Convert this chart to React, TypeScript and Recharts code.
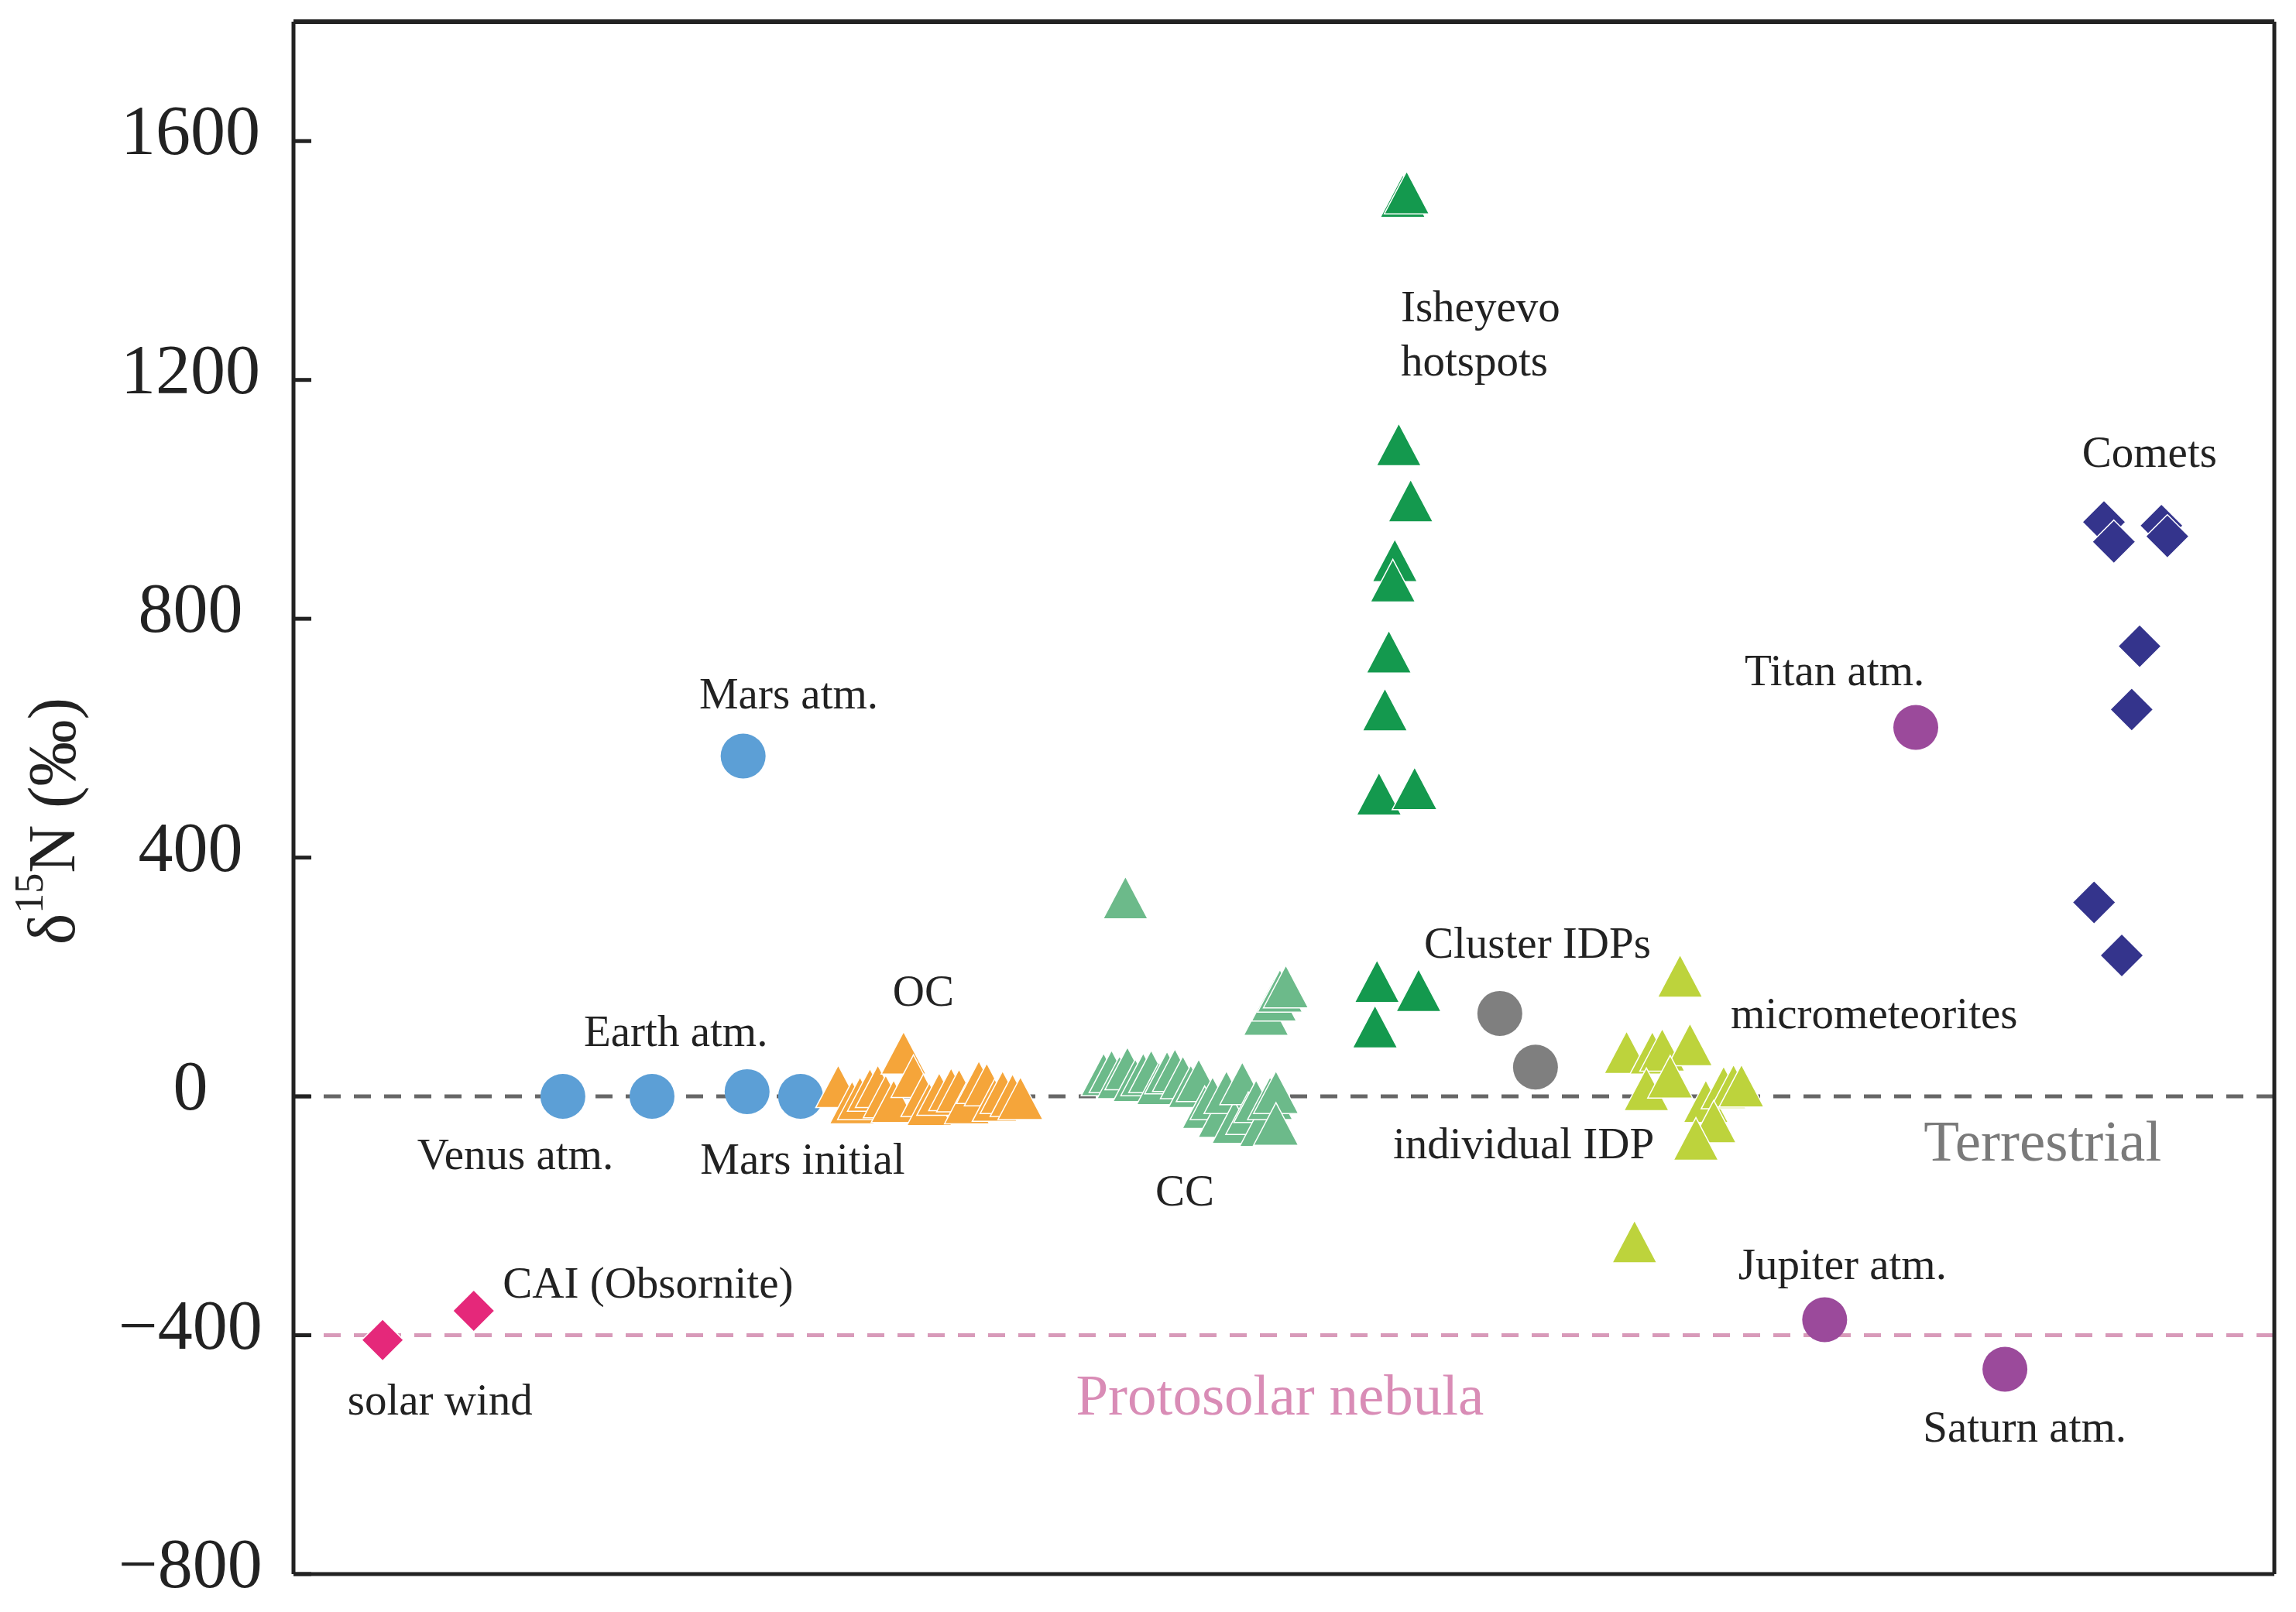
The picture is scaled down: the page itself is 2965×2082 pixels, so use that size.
import React from "react";
import { ReferenceLine, Scatter, ScatterChart, XAxis, YAxis } from "recharts";

const W = 2965;
const H = 2082;
const FONT = '"Liberation Serif", "Times New Roman", serif';

type Pt = { x: number; y: number };
type Note = { x: number; y: number; text: string; big?: boolean; color?: string; anchor?: "start" | "middle" };

// x is an arbitrary position along the plot (0-100), y is δ15N in ‰
const solarWind: Pt[] = [{ x: 4.5, y: -408 }];
const cai: Pt[] = [{ x: 9.1, y: -359 }];
const innerPlanets: Pt[] = [
  { x: 13.6, y: 0 },
  { x: 18.1, y: 0 },
  { x: 22.9, y: 8 },
  { x: 25.6, y: 0 },
];
const marsAtm: Pt[] = [{ x: 22.7, y: 570 }];
const oc: Pt[] = [
  { x: 27.5, y: 5 }, { x: 28.2, y: -22 }, { x: 28.6, y: -15 }, { x: 29.1, y: -1 },
  { x: 29.5, y: 5 }, { x: 29.9, y: -12 }, { x: 30.3, y: -20 }, { x: 30.8, y: 61 },
  { x: 31.3, y: 22 }, { x: 31.8, y: -10 }, { x: 32.1, y: -25 }, { x: 32.6, y: -8 },
  { x: 33.2, y: 0 }, { x: 33.6, y: -2 }, { x: 34.0, y: -22 }, { x: 34.6, y: 12 },
  { x: 35.0, y: 8 }, { x: 35.4, y: -18 }, { x: 35.8, y: -5 }, { x: 36.3, y: -10 },
  { x: 36.7, y: -15 },
];
const cc: Pt[] = [
  { x: 42.0, y: 321 },
  { x: 40.9, y: 25 }, { x: 41.3, y: 30 }, { x: 41.7, y: 20 }, { x: 42.1, y: 35 },
  { x: 42.5, y: 15 }, { x: 42.9, y: 25 }, { x: 43.3, y: 30 }, { x: 43.7, y: 10 },
  { x: 44.1, y: 28 }, { x: 44.5, y: 32 }, { x: 44.9, y: 20 }, { x: 45.3, y: 5 },
  { x: 45.7, y: 15 }, { x: 46.0, y: -30 }, { x: 46.4, y: -15 }, { x: 46.8, y: -45 },
  { x: 47.1, y: -5 }, { x: 47.5, y: -55 }, { x: 47.9, y: 10 }, { x: 48.2, y: -40 },
  { x: 48.6, y: -20 }, { x: 48.9, y: -60 }, { x: 49.3, y: -15 }, { x: 49.6, y: -5 },
  { x: 49.6, y: -58 },
  { x: 49.1, y: 126 }, { x: 49.5, y: 150 }, { x: 49.8, y: 165 }, { x: 50.1, y: 172 },
];
const isheyevo: Pt[] = [
  { x: 56.0, y: 1496 }, { x: 56.2, y: 1502 }, { x: 55.8, y: 1080 }, { x: 56.4, y: 986 },
  { x: 55.6, y: 886 }, { x: 55.5, y: 852 }, { x: 55.3, y: 733 }, { x: 55.1, y: 636 },
  { x: 54.8, y: 495 }, { x: 56.6, y: 504 }, { x: 54.7, y: 181 }, { x: 56.8, y: 166 },
  { x: 54.6, y: 105 },
];
const clusterIdp: Pt[] = [
  { x: 60.9, y: 139 },
  { x: 62.7, y: 49 },
];
const micrometeorites: Pt[] = [
  { x: 70.0, y: 190 }, { x: 67.3, y: 62 }, { x: 68.6, y: 61 }, { x: 69.1, y: 66 },
  { x: 70.5, y: 75 }, { x: 68.3, y: 0 }, { x: 69.5, y: 21 }, { x: 71.3, y: -20 },
  { x: 72.2, y: 3 }, { x: 72.7, y: 6 }, { x: 73.1, y: 6 }, { x: 71.7, y: -54 },
  { x: 70.8, y: -83 }, { x: 67.7, y: -255 },
];
const giantPlanets: Pt[] = [
  { x: 81.9, y: 618 }, // Titan
  { x: 77.3, y: -374 }, // Jupiter
  { x: 86.4, y: -457 }, // Saturn
];
const comets: Pt[] = [
  { x: 91.4, y: 962 }, { x: 91.9, y: 929 }, { x: 94.3, y: 956 }, { x: 94.6, y: 938 },
  { x: 93.2, y: 754 }, { x: 92.8, y: 648 }, { x: 90.9, y: 325 }, { x: 92.3, y: 236 },
];

const yTicks = [-800, -400, 0, 400, 800, 1200, 1600];

const notes: Note[] = [
  { x: 25.0, y: 675, text: "Mars atm." },
  { x: 19.3, y: 110, text: "Earth atm." },
  { x: 11.2, y: -97, text: "Venus atm." },
  { x: 25.7, y: -104, text: "Mars initial" },
  { x: 31.8, y: 177, text: "OC" },
  { x: 45.0, y: -158, text: "CC" },
  { x: 55.9, y: 1324, text: "Isheyevo", anchor: "start" },
  { x: 55.9, y: 1233, text: "hotspots", anchor: "start" },
  { x: 62.8, y: 258, text: "Cluster IDPs" },
  { x: 62.1, y: -79, text: "individual IDP" },
  { x: 79.8, y: 140, text: "micrometeorites" },
  { x: 93.7, y: 1080, text: "Comets" },
  { x: 77.8, y: 714, text: "Titan atm." },
  { x: 78.2, y: -281, text: "Jupiter atm." },
  { x: 87.4, y: -553, text: "Saturn atm." },
  { x: 17.9, y: -312, text: "CAI (Obsornite)" },
  { x: 7.4, y: -508, text: "solar wind" },
  { x: 88.3, y: -75, text: "Terrestrial", big: true, color: "#7a7a7a" },
  { x: 49.8, y: -500, text: "Protosolar nebula", big: true, color: "#d98cb6" },
];

const circle = (color: string) => (p: any) => <circle cx={p.cx} cy={p.cy} r={29} fill={color} />;

const triangle = (color: string) => (p: any) => {
  const w = 58;
  const h = 55;
  const pts = `${p.cx},${p.cy - (h * 2) / 3} ${p.cx - w / 2},${p.cy + h / 3} ${p.cx + w / 2},${p.cy + h / 3}`;
  return <polygon points={pts} fill={color} stroke="#ffffff" strokeWidth={1.5} />;
};

const diamond = (color: string, r: number) => (p: any) => {
  const pts = `${p.cx},${p.cy - r} ${p.cx + r},${p.cy} ${p.cx},${p.cy + r} ${p.cx - r},${p.cy}`;
  return <polygon points={pts} fill={color} stroke="#ffffff" strokeWidth={1.5} />;
};

const noteShape = (p: any) => {
  const n: Note = p.payload;
  return (
    <text
      x={p.cx}
      y={p.cy}
      textAnchor={n.anchor || "middle"}
      dominantBaseline="central"
      fontFamily={FONT}
      fontSize={n.big ? 75 : 57}
      fill={n.color || "#222"}
    >
      {n.text}
    </text>
  );
};

const YTick = (props: any) => {
  const { x, y, payload } = props;
  const v = payload.value;
  const txt = v < 0 ? `\u2212${Math.abs(v)}` : `${v}`;
  return (
    <g>
      <line x1={x} x2={x + 23} y1={y} y2={y} stroke="#222" strokeWidth={5} />
      <text x={x - 133} y={y + 17} textAnchor="middle" fontFamily={FONT} fontSize={90} fill="#222">
        {txt}
      </text>
    </g>
  );
};

const AxisTitle = (props: any) => {
  const vb = props.viewBox || { x: 0, y: 28, width: 379, height: 2005 };
  const cx = vb.x + 67;
  const cy = vb.y + vb.height / 2 + 30;
  return (
    <text
      x={cx}
      y={cy}
      transform={`rotate(-90 ${cx} ${cy})`}
      textAnchor="middle"
      dominantBaseline="central"
      fontFamily={FONT}
      fontSize={86}
      fill="#222"
    >
      δ
      <tspan dy={-30} fontSize={52}>
        15
      </tspan>
      <tspan dy={30}>N (‰)</tspan>
    </text>
  );
};

export default function App() {
  return (
    <div style={{ position: "absolute", left: 0, top: 0, width: W, height: H, background: "#fff" }}>
      <ScatterChart width={W} height={H} margin={{ top: 28, right: 28, bottom: 49, left: 0 }}>
        <XAxis type="number" dataKey="x" domain={[0, 100]} allowDataOverflow hide />
        <YAxis
          type="number"
          dataKey="y"
          domain={[-800, 1800]}
          allowDataOverflow
          ticks={yTicks}
          interval={0}
          width={379}
          tickSize={0}
          tickMargin={0}
          tickLine={false}
          axisLine={{ stroke: "#222", strokeWidth: 5 }}
          tick={<YTick />}
          label={{ content: AxisTitle }}
        />
        <ReferenceLine y={0} stroke="#666" strokeWidth={5} strokeDasharray="22 17" />
        <ReferenceLine y={-400} stroke="#d89ab9" strokeWidth={5} strokeDasharray="22 17" />
        <ReferenceLine y={1800} stroke="#222" strokeWidth={6} />
        <ReferenceLine y={-800} stroke="#222" strokeWidth={5} />
        <ReferenceLine x={100} stroke="#222" strokeWidth={5} />

        <Scatter data={solarWind} shape={diamond("#e5287a", 27)} isAnimationActive={false} />
        <Scatter data={cai} shape={diamond("#e5287a", 27)} isAnimationActive={false} />
        <Scatter data={innerPlanets} shape={circle("#5c9fd6")} isAnimationActive={false} />
        <Scatter data={marsAtm} shape={circle("#5c9fd6")} isAnimationActive={false} />
        <Scatter data={oc} shape={triangle("#f5a53a")} isAnimationActive={false} />
        <Scatter data={cc} shape={triangle("#6cba8a")} isAnimationActive={false} />
        <Scatter data={isheyevo} shape={triangle("#14994e")} isAnimationActive={false} />
        <Scatter data={clusterIdp} shape={circle("#7f7f7f")} isAnimationActive={false} />
        <Scatter data={micrometeorites} shape={triangle("#bdd33c")} isAnimationActive={false} />
        <Scatter data={giantPlanets} shape={circle("#9b4a9b")} isAnimationActive={false} />
        <Scatter data={comets} shape={diamond("#34348c", 28)} isAnimationActive={false} />
        <Scatter data={notes} shape={noteShape} isAnimationActive={false} />
      </ScatterChart>
    </div>
  );
}
